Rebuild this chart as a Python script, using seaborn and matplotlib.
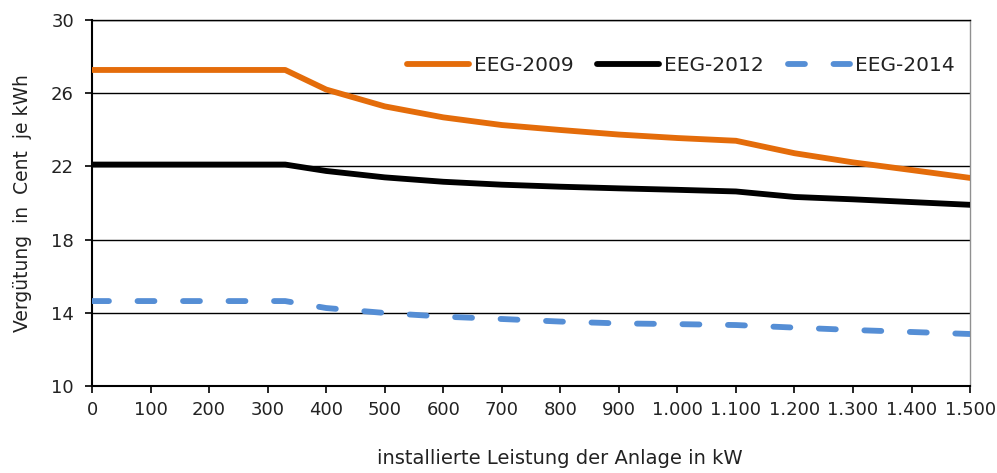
import numpy as np
import pandas as pd
import seaborn as sns
from matplotlib import pyplot as plt
from matplotlib.ticker import FuncFormatter, MultipleLocator

# installed capacity (kW) and feed-in tariff (ct/kWh)
leistung = [0, 100, 200, 300, 330, 400, 500, 600, 700, 800, 900, 1000, 1100,
            1200, 1300, 1400, 1500]
eeg_2009 = [27.27, 27.27, 27.27, 27.27, 27.27, 26.2, 25.28, 24.68, 24.26, 23.99,
            23.74, 23.55, 23.4, 22.72, 22.22, 21.8, 21.37]
eeg_2012 = [22.1, 22.1, 22.1, 22.1, 22.1, 21.75, 21.4, 21.16, 21.0, 20.89,
            20.8, 20.72, 20.63, 20.33, 20.2, 20.05, 19.9]
eeg_2014 = [14.64, 14.64, 14.64, 14.64, 14.64, 14.26, 13.99, 13.79, 13.66, 13.52,
            13.42, 13.38, 13.33, 13.19, 13.06, 12.95, 12.84]

serien = ["EEG-2009", "EEG-2012", "EEG-2014"]
farben = {"EEG-2009": "#E46C0A", "EEG-2012": "#000000", "EEG-2014": "#558ED5"}

df = pd.DataFrame({"kW": leistung * 3,
                   "Cent": eeg_2009 + eeg_2012 + eeg_2014,
                   "Gesetz": np.repeat(serien, len(leistung))})

sns.set_style("white")
plt.rcParams['font.family'] = ['DejaVu Sans']
fs = 13

fig = plt.figure(figsize=(9.97, 4.73), dpi=100)
ax = fig.add_axes([0.0923, 0.184, 0.8807, 0.7737])

for name in serien:
    sub = df[df["Gesetz"] == name]
    sns.lineplot(x="kW", y="Cent", data=sub, ax=ax, color=farben[name],
                 linewidth=4.2, label=name, zorder=3)

blau = ax.get_lines()[2]
blau.set_dashes((2.9, 4.9))
blau.set_dash_capstyle("round")

ax.set_xlim(0, 1500)
ax.set_ylim(10, 30)
ax.xaxis.set_major_locator(MultipleLocator(100))
ax.set_yticks([10, 14, 18, 22, 26, 30])
ax.xaxis.set_major_formatter(FuncFormatter(lambda v, p: f"{v:,.0f}".replace(",", ".")))

ax.yaxis.grid(True, color="black", linewidth=1.0, zorder=1)
ax.xaxis.grid(False)
for s in ["left", "bottom"]:
    ax.spines[s].set_color("black")
    ax.spines[s].set_linewidth(1.5)
ax.spines["top"].set_color("black")
ax.spines["top"].set_linewidth(1.0)
ax.spines["right"].set_color("#909090")
ax.spines["right"].set_linewidth(1.0)

ax.tick_params(axis="both", direction="out", length=5, width=1.2, color="black",
               labelsize=fs, labelcolor="#222222", bottom=True, left=True)
ax.tick_params(axis="y", pad=8)
ax.tick_params(axis="x", pad=6)

ax.set_xlabel("installierte Leistung der Anlage in kW", fontsize=14, color="#222222")
ax.set_ylabel("Vergütung  in  Cent  je kWh", fontsize=13.5, color="#222222")
ax.xaxis.set_label_coords(0.533, -0.172)
ax.yaxis.set_label_coords(-0.068, 0.5)

leg = ax.legend(loc="center right", bbox_to_anchor=(0.983, 0.875), ncol=3, frameon=False,
                fontsize=14.5, handlelength=3.08, handletextpad=0.25, columnspacing=1.2,
                borderpad=0, borderaxespad=0)
for t in leg.get_texts():
    t.set_color("#222222")

fig.savefig("out.png", dpi=100)
